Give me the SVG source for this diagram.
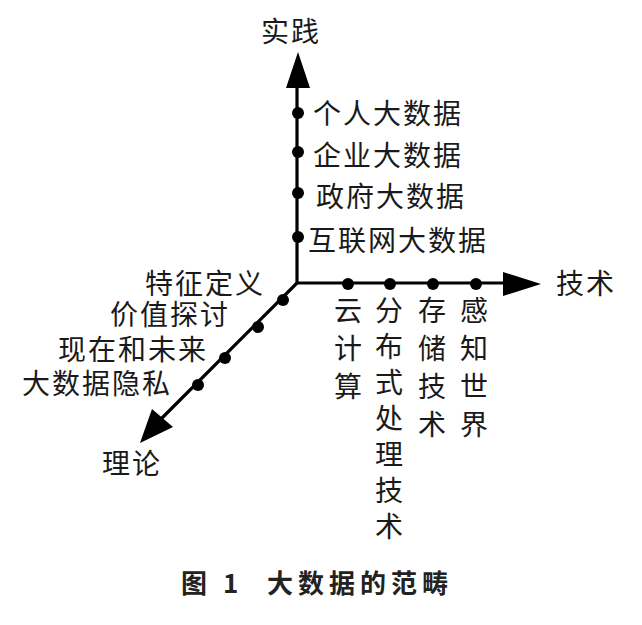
<svg xmlns="http://www.w3.org/2000/svg" width="642" height="625" viewBox="0 0 642 625">
<style>
  .lbl { font-family: "Noto Sans CJK SC", "Noto Sans", sans-serif; font-size: 28px; fill: #1a1a1a; letter-spacing: 2px; }
  .col { font-family: "Noto Sans CJK SC", "Noto Sans", sans-serif; font-size: 28px; fill: #1a1a1a; text-anchor: middle; }
  .cap { font-family: "Noto Sans CJK SC", "Noto Sans", sans-serif; font-size: 26px; font-weight: bold; fill: #222; }
  .axis { stroke: #000; stroke-width: 3.2; fill: none; }
  .dot { fill: #000; }
  .head { fill: #000; }
</style>
<rect width="642" height="625" fill="#fff"/>
<g id="connectors">
  <polyline class="axis" points="297,88 297,283 505,283"/>
  <line class="axis" x1="297" y1="283" x2="158" y2="422"/>
  <polygon class="head" points="298,52 286,88 310,88"/>
  <polygon class="head" points="541,284 503,272 503,296"/>
  <polygon class="head" points="140,443 152,409 173,427"/>
</g>
<g id="axis-practice">
  <text class="lbl" x="261" y="42">实践</text>
</g>
<g id="axis-tech">
  <text class="lbl" x="556" y="294">技术</text>
</g>
<g id="axis-theory">
  <text class="lbl" x="102" y="474">理论</text>
</g>
<g id="n-personal"><circle class="dot" cx="298" cy="113" r="6"/><text class="lbl" x="313" y="124">个人大数据</text></g>
<g id="n-enterprise"><circle class="dot" cx="298" cy="152" r="6"/><text class="lbl" x="313" y="166">企业大数据</text></g>
<g id="n-government"><circle class="dot" cx="298" cy="193" r="6"/><text class="lbl" x="316" y="207">政府大数据</text></g>
<g id="n-internet"><circle class="dot" cx="298" cy="237" r="6"/><text class="lbl" x="308" y="251">互联网大数据</text></g>
<g id="n-cloud"><circle class="dot" cx="348" cy="284" r="6"/>
  <text class="col" y="321"><tspan x="348">云</tspan><tspan x="348" dy="38">计</tspan><tspan x="348" dy="38">算</tspan></text></g>
<g id="n-distributed"><circle class="dot" cx="390" cy="284" r="6"/>
  <text class="col" y="321"><tspan x="389">分</tspan><tspan x="389" dy="36">布</tspan><tspan x="389" dy="36">式</tspan><tspan x="389" dy="36">处</tspan><tspan x="389" dy="36">理</tspan><tspan x="389" dy="36">技</tspan><tspan x="389" dy="36">术</tspan></text></g>
<g id="n-storage"><circle class="dot" cx="433" cy="284" r="6"/>
  <text class="col" y="321"><tspan x="432">存</tspan><tspan x="432" dy="38">储</tspan><tspan x="432" dy="38">技</tspan><tspan x="432" dy="38">术</tspan></text></g>
<g id="n-perception"><circle class="dot" cx="476" cy="284" r="6"/>
  <text class="col" y="321"><tspan x="474">感</tspan><tspan x="474" dy="38">知</tspan><tspan x="474" dy="38">世</tspan><tspan x="474" dy="38">界</tspan></text></g>
<g id="n-definition"><circle class="dot" cx="283" cy="300" r="6"/><text class="lbl" x="145" y="294">特征定义</text></g>
<g id="n-value"><circle class="dot" cx="258" cy="327" r="6"/><text class="lbl" x="110" y="325">价值探讨</text></g>
<g id="n-future"><circle class="dot" cx="225" cy="358" r="6"/><text class="lbl" x="58" y="360">现在和未来</text></g>
<g id="n-privacy"><circle class="dot" cx="198" cy="385" r="6"/><text class="lbl" x="22" y="394">大数据隐私</text></g>
<g id="caption">
  <text class="cap" y="593"><tspan x="181">图</tspan><tspan x="223">1</tspan><tspan x="267" letter-spacing="5">大数据的范畴</tspan></text>
</g>
</svg>
